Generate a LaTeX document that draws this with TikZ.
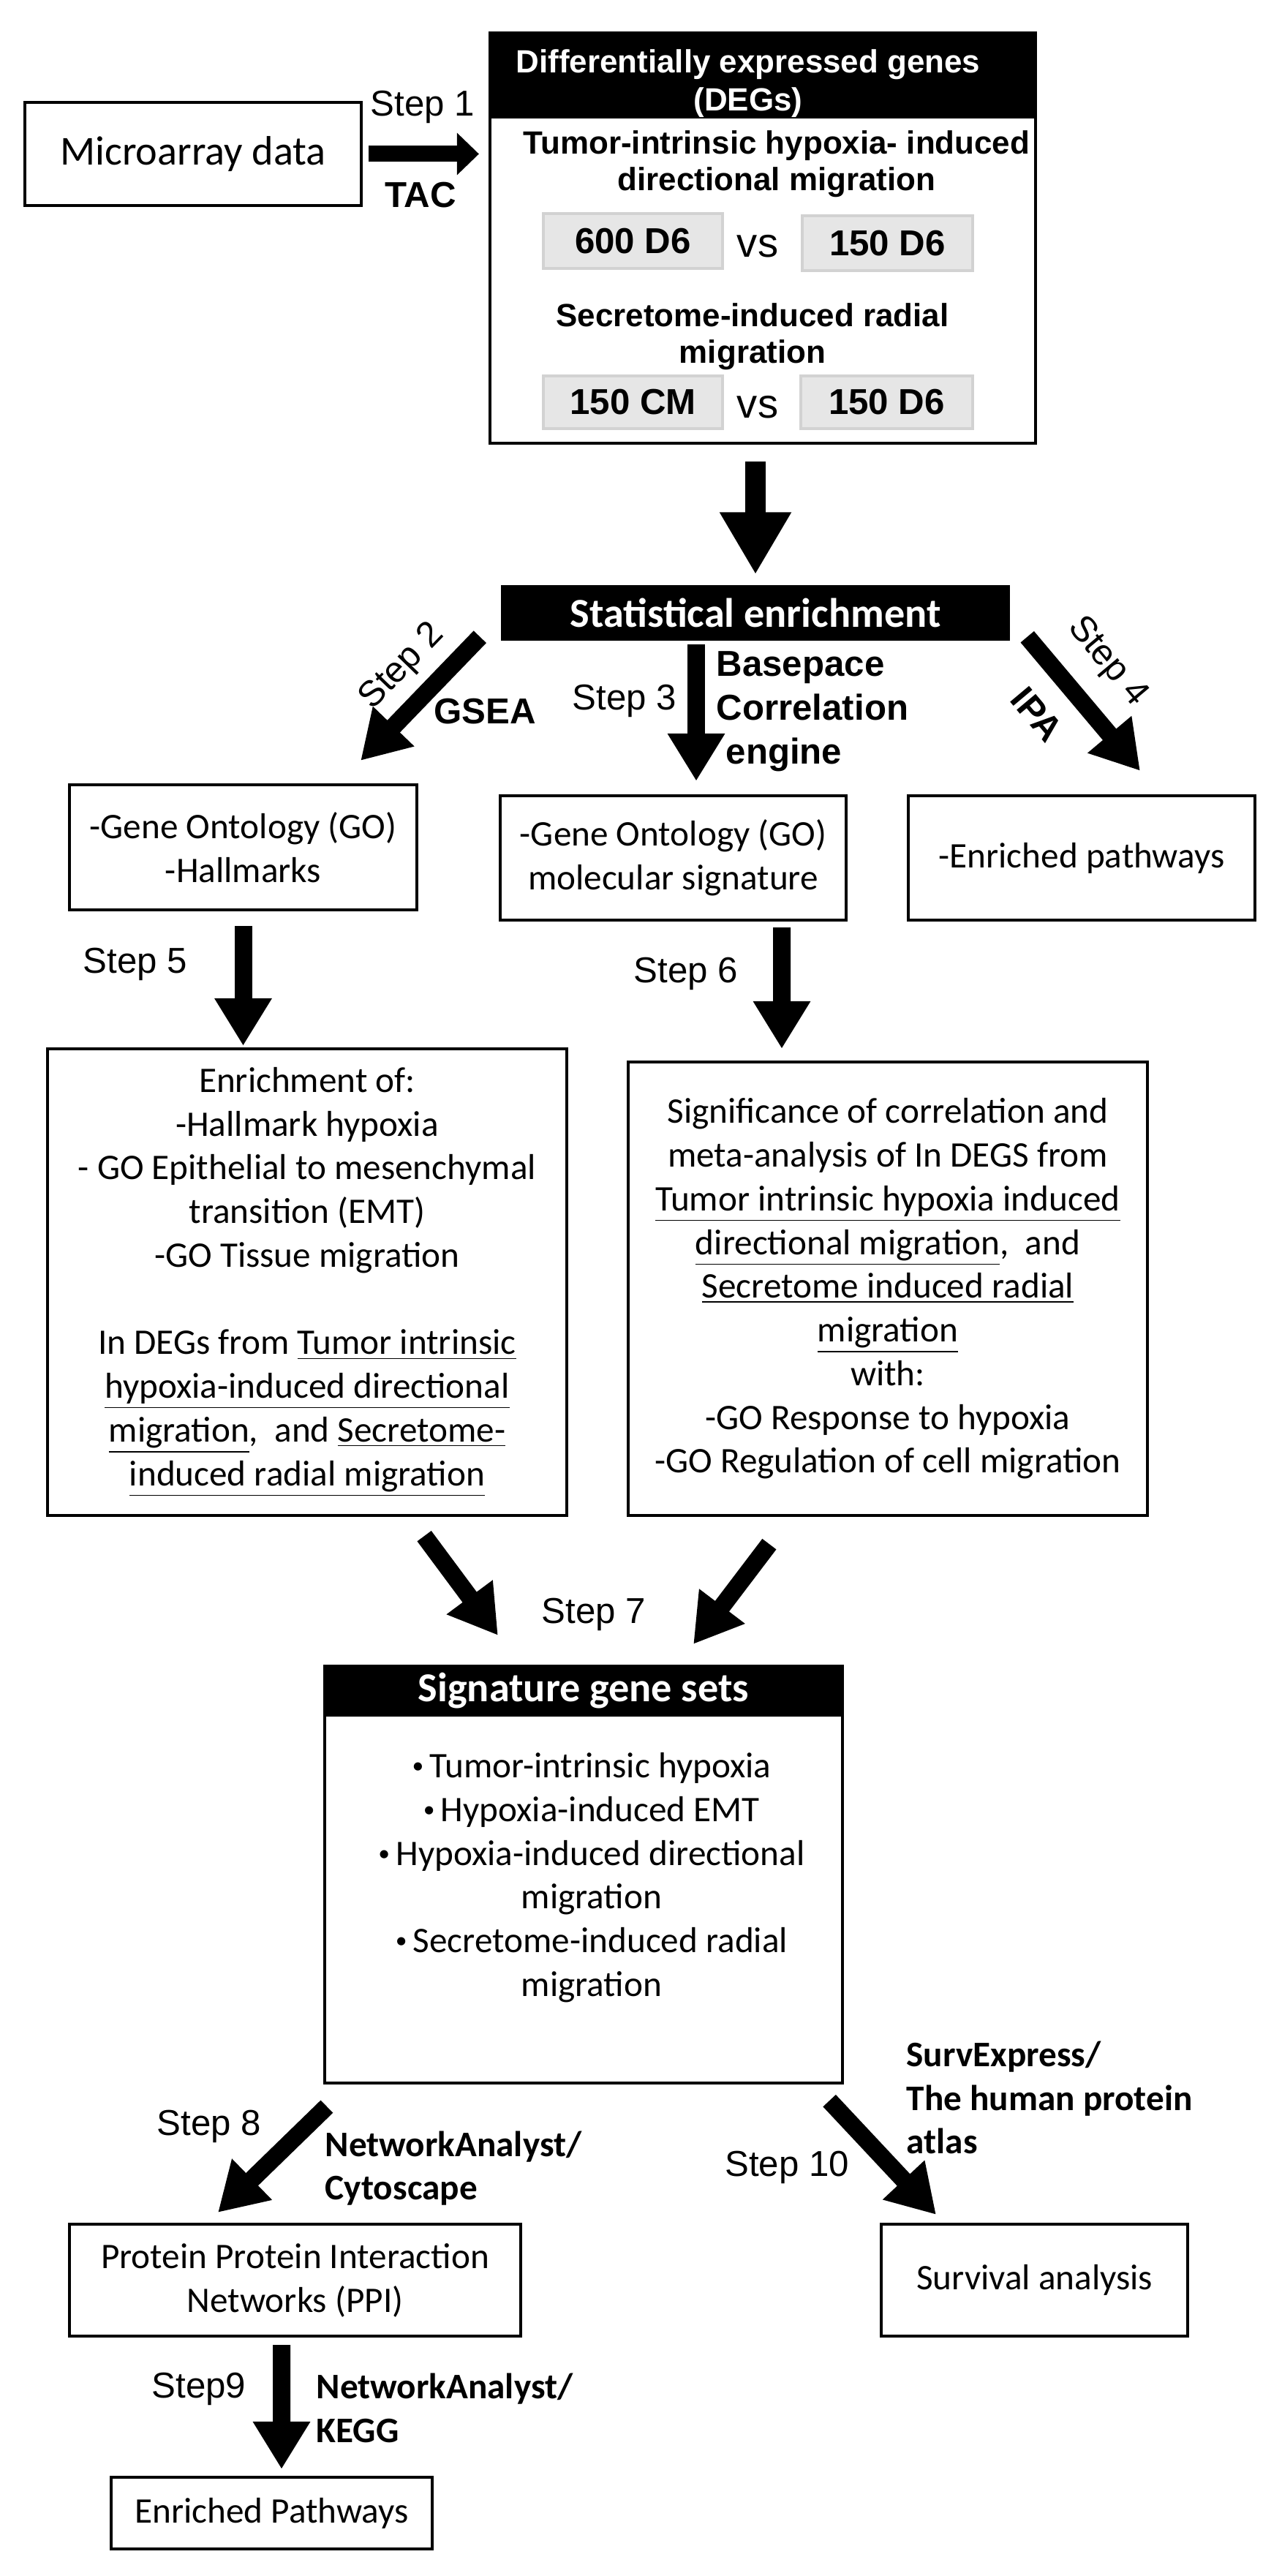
\documentclass[tikz,border=0pt]{standalone}
\usepackage{fontspec}
\setmainfont{Carlito}
\newfontfamily\arialfont{Liberation Sans}
\usetikzlibrary{arrows.meta}
\definecolor{cellgrey}{HTML}{E6E6E6}
\definecolor{celledge}{HTML}{D2D2D2}
\newcommand{\smallbul}{\raisebox{0.12em}{\fontsize{9}{9}\selectfont •}\,}

\begin{document}
\begin{tikzpicture}[
    box/.style={draw=black,line width=1.2pt,align=center,inner sep=0pt,font=\fontsize{14}{17}\selectfont},
    headbar/.style={fill=black,text=white,inner sep=0pt},
    greybox/.style={draw=celledge,fill=cellgrey,line width=1pt,inner sep=0pt,font=\arialfont\bfseries\fontsize{14}{17}\selectfont},
    steplab/.style={inner sep=0pt,font=\arialfont\fontsize{14}{17}\selectfont},
    toollab/.style={inner sep=0pt,font=\arialfont\bfseries\fontsize{14}{17}\selectfont},
    dblab/.style={inner sep=0pt,align=left,anchor=west,font=\bfseries\fontsize{14}{17}\selectfont},
    fat/.style={line width=0.24cm,-{Triangle[length=0.65cm,width=0.74cm]}},
]
    \useasboundingbox (0,0) rectangle (17.52,-35.22);

    \node[box,minimum width=4.60cm,minimum height=1.41cm,font=\fontsize{16}{19}\selectfont] (micro) at (2.64,-2.105) {Microarray data};
    \node[box,minimum width=7.46cm,minimum height=5.61cm] (degs) at (10.43,-3.255) {};
    \node[headbar,anchor=north,minimum width=7.46cm,minimum height=1.18cm] (degshead) at (degs.north) {};
    \node[text=white,align=center,inner sep=0pt,font=\arialfont\bfseries\fontsize{12.5}{14.8}\selectfont] (degstitle) at (10.23,-1.14) {Differentially expressed genes\\(DEGs)};
    \node[align=center,inner sep=0pt,font=\arialfont\bfseries\fontsize{12.5}{14.2}\selectfont] (hyptxt) at (10.62,-2.24) {Tumor-intrinsic hypoxia- induced\\directional migration};
    \node[greybox,minimum width=2.45cm,minimum height=0.75cm] (c600) at (8.655,-3.295) {600 D6};
    \node[steplab,font=\arialfont\fontsize{16}{19}\selectfont] (vs1) at (10.36,-3.37) {vs};
    \node[greybox,minimum width=2.33cm,minimum height=0.75cm] (c150a) at (12.135,-3.325) {150 D6};
    \node[align=center,inner sep=0pt,font=\arialfont\bfseries\fontsize{12.5}{14.2}\selectfont] (sectxt) at (10.29,-4.60) {Secretome-induced radial\\migration};
    \node[greybox,minimum width=2.45cm,minimum height=0.72cm] (c150cm) at (8.655,-5.50) {150 CM};
    \node[steplab,font=\arialfont\fontsize{16}{19}\selectfont] (vs2) at (10.36,-5.57) {vs};
    \node[greybox,minimum width=2.35cm,minimum height=0.72cm] (c150b) at (12.125,-5.50) {150 D6};
    \node[steplab] (s1) at (5.78,-1.46) {Step 1};
    \node[toollab] (tac) at (5.75,-2.67) {TAC};

    \node[headbar,minimum width=6.96cm,minimum height=0.76cm,font=\bfseries\fontsize{16}{19}\selectfont] (stat) at (10.33,-8.38) {Statistical enrichment};
    \node[steplab,rotate=46] (s2) at (5.50,-9.12) {Step 2};
    \node[toollab] (gsea) at (6.63,-9.73) {GSEA};
    \node[steplab] (s3) at (8.54,-9.58) {Step 3};
    \node[toollab,align=left,anchor=west] (bcorr) at (9.79,-9.73) {Basepace\\Correlation\\\hspace{0.13cm}engine};
    \node[steplab,rotate=-50] (s4) at (15.14,-9.05) {Step 4};
    \node[toollab,rotate=-50] (ipa) at (14.18,-9.77) {IPA};

    \node[box,minimum width=4.75cm,minimum height=1.71cm] (go1) at (3.325,-11.585) {-Gene Ontology (GO)\\-Hallmarks};
    \node[box,minimum width=4.73cm,minimum height=1.70cm] (go2) at (9.205,-11.73) {-Gene Ontology (GO)\\molecular signature};
    \node[box,minimum width=4.74cm,minimum height=1.70cm] (path1) at (14.79,-11.73) {-Enriched pathways};
    \node[steplab] (s5) at (1.85,-13.18) {Step 5};
    \node[steplab] (s6) at (9.38,-13.31) {Step 6};

    \node[box,minimum width=7.10cm,minimum height=6.38cm] (enr) at (4.20,-17.53) {Enrichment of:\\-Hallmark hypoxia\\- GO Epithelial to mesenchymal\\transition (EMT)\\-GO Tissue migration\\[17pt]In DEGs from \underline{Tumor intrinsic}\\\underline{hypoxia-induced directional}\\\underline{migration},\ \ and \underline{Secretome-}\\\underline{induced radial migration}};
    \node[box,minimum width=7.10cm,minimum height=6.20cm] (sig) at (12.14,-17.62) {Significance of correlation and\\meta-analysis of In DEGS from\\\underline{Tumor intrinsic hypoxia induced}\\\underline{directional migration},\ \ and\\\underline{Secretome induced radial}\\\underline{migration}\\with:\\-GO Response to hypoxia\\-GO Regulation of cell migration};
    \node[steplab] (s7) at (8.12,-22.07) {Step 7};

    \node[box,minimum width=7.08cm,minimum height=5.70cm] (sigset) at (7.98,-25.63) {};
    \node[headbar,anchor=north,minimum width=7.08cm,minimum height=0.70cm,font=\bfseries\fontsize{16}{19}\selectfont] (sighead) at (sigset.north) {Signature gene sets};
    \node[align=center,inner sep=0pt,font=\fontsize{14}{17}\selectfont] (sigtxt) at (8.09,-25.67) {\smallbul Tumor-intrinsic hypoxia\\\smallbul Hypoxia-induced EMT\\\smallbul Hypoxia-induced directional\\migration\\\smallbul Secretome-induced radial\\migration};

    \node[steplab] (s8) at (2.86,-29.07) {Step 8};
    \node[dblab] (netcyto) at (4.44,-29.645) {NetworkAnalyst/\\Cytoscape};
    \node[steplab] (s10) at (10.76,-29.63) {Step 10};
    \node[dblab] (survlab) at (12.39,-28.68) {SurvExpress/\\The human protein\\atlas};
    \node[box,minimum width=6.17cm,minimum height=1.53cm] (ppi) at (4.035,-31.175) {Protein Protein Interaction\\Networks (PPI)};
    \node[box,minimum width=4.19cm,minimum height=1.53cm] (surv) at (14.145,-31.175) {Survival analysis};
    \node[steplab] (s9) at (2.72,-32.66) {Step9};
    \node[dblab] (netkegg) at (4.32,-32.92) {NetworkAnalyst/\\KEGG};
    \node[box,minimum width=4.39cm,minimum height=0.98cm] (enrp) at (3.715,-34.36) {Enriched Pathways};

    \draw[line width=0.22cm,-{Triangle[length=0.3cm,width=0.56cm]},shorten <=0.08cm,shorten >=0.13cm] (micro.east) -- (micro.east -| degs.west);
    \draw[line width=0.28cm,-{Triangle[length=0.85cm,width=0.92cm]},shorten <=0.23cm,shorten >=0.14cm] (degs.south -| stat.north) -- (stat.north);
    \draw[fat] ([xshift=-0.28cm,yshift=0.06cm]stat.south west) -- ([xshift=-0.79cm,yshift=0.31cm]go1.north east);
    \draw[fat] ([xshift=-0.81cm,yshift=-0.04cm]stat.south) -- ([xshift=0.315cm,yshift=0.18cm]go2.north);
    \draw[fat] ([xshift=0.23cm,yshift=0.06cm]stat.south east) -- ([xshift=0.80cm,yshift=0.32cm]path1.north);
    \draw[fat,shorten <=0.2cm,shorten >=0.02cm] (go1.south) -- (go1.south |- enr.north);
    \draw[fat] ([xshift=1.485cm,yshift=-0.08cm]go2.south) -- ([xshift=-1.45cm,yshift=0.16cm]sig.north);
    \draw[fat] ([xshift=-1.97cm,yshift=-0.26cm]enr.south east) -- ([xshift=2.39cm,yshift=0.40cm]sigset.north west);
    \draw[fat] ([xshift=1.95cm,yshift=-0.37cm]sig.south west) -- ([xshift=-2.06cm,yshift=0.28cm]sigset.north east);
    \draw[fat] ([xshift=0.05cm,yshift=-0.30cm]sigset.south west) -- ([xshift=-1.055cm,yshift=0.14cm]ppi.north);
    \draw[fat] ([xshift=-0.20cm,yshift=-0.22cm]sigset.south east) -- ([xshift=-1.345cm,yshift=0.11cm]surv.north);
    \draw[fat] ([xshift=-0.185cm,yshift=-0.10cm]ppi.south) -- ([xshift=0.135cm,yshift=0.09cm]enrp.north);
\end{tikzpicture}
\end{document}
